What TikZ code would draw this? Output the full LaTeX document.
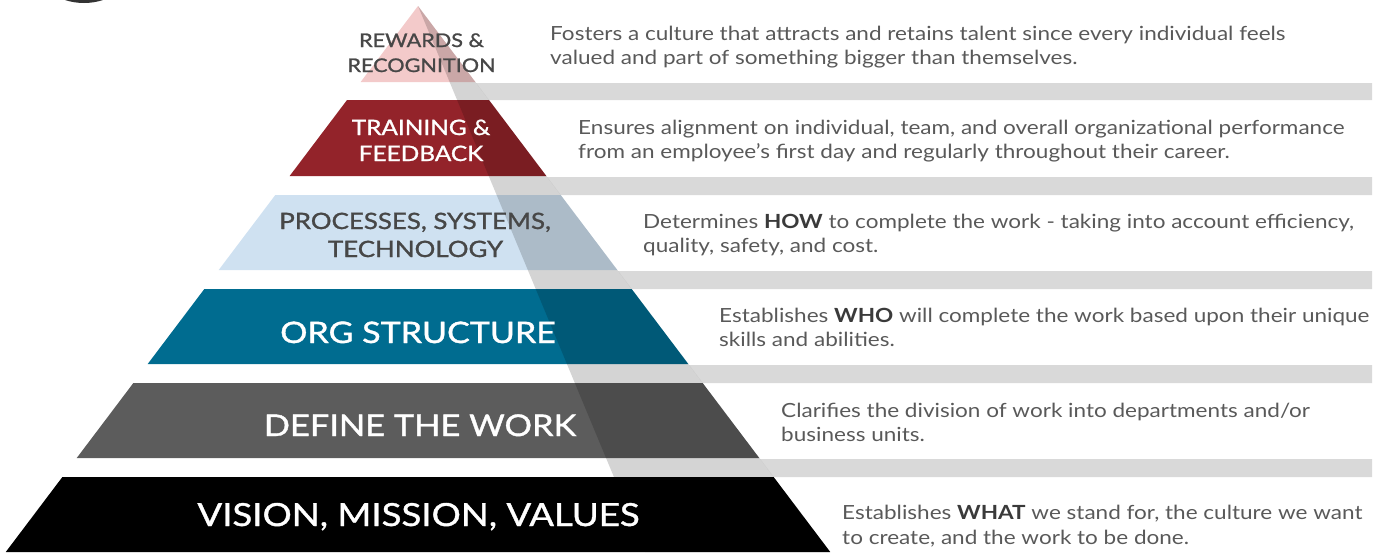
\documentclass[tikz,border=0pt]{standalone}
\usepackage{fontspec}
\setmainfont{Lato}
\newfontfamily\descfont[FakeStretch=1.155]{Lato}
\newfontfamily\labfont[FakeStretch=1.15,FakeBold=1.2]{Lato}
\definecolor{pinkL}{HTML}{F3CACA}
\definecolor{redL}{HTML}{93232A}
\definecolor{blueL}{HTML}{CFE1F1}
\definecolor{tealL}{HTML}{006C90}
\definecolor{grayL}{HTML}{5C5C5C}
\definecolor{barC}{HTML}{D9D9D9}
\definecolor{descC}{HTML}{595959}
\definecolor{boldC}{HTML}{3A3A3A}
\definecolor{labC}{HTML}{474747}
\newcommand{\lx}[1]{418-0.755*(#1-6)}
\newcommand{\rx}[1]{418+0.755*(#1-6)}
\begin{document}
\begin{tikzpicture}[x=1pt,y=-1pt,
  bar/.style={fill=barC,draw=none},
  desc/.style={anchor=base west, text=descC, font=\descfont\fontsize{19.5}{24}\selectfont, inner sep=0pt},
  lab/.style={anchor=base, inner sep=0pt}]
\useasboundingbox (0,0) rectangle (1380,554);
\begin{scope}
\clip (0,0) rectangle (1380,554);
\fill[black!80] (84,-58) circle (61);
\end{scope}
% grey bars between the tiers
\foreach \a/\b in {83/100,177/195,271/289,365/383,459/477}{
  \fill[bar] ({\rx{\a}},\a) -- (1372,\a) -- (1372,\b) -- ({\rx{\b}},\b) -- cycle;
}
% tiers
\fill[pinkL] (418,6) -- ({\rx{82}},82) -- ({\lx{82}},82) -- cycle;
\fill[redL] ({\lx{100}},100) -- ({\rx{100}},100) -- ({\rx{176}},176) -- ({\lx{176}},176) -- cycle;
\fill[blueL] ({\lx{195}},195) -- ({\rx{195}},195) -- ({\rx{270}},270) -- ({\lx{270}},270) -- cycle;
\fill[tealL] ({\lx{289}},289) -- ({\rx{289}},289) -- ({\rx{364}},364) -- ({\lx{364}},364) -- cycle;
\fill[grayL] ({\lx{383}},383) -- ({\rx{383}},383) -- ({\rx{458}},458) -- ({\lx{458}},458) -- cycle;
\fill[black] ({\lx{477}},477) -- ({\rx{477}},477) -- ({\rx{552}},552) -- ({\lx{552}},552) -- cycle;
% shadow
\fill[black,fill opacity=0.17] (418,6) -- ({418+0.416*546},552) -- ({\rx{552}},552) -- cycle;
% tier labels
\node[lab,text=labC,font=\labfont\fontsize{18.8}{20}\selectfont] (l1a) at (421.5,47) {REWARDS \&};
\node[lab,text=labC,font=\labfont\fontsize{18.8}{20}\selectfont] (l1b) at (421.5,72) {RECOGNITION};
\node[lab,text=white,font=\labfont\fontsize{21.2}{22}\selectfont] (l2a) at (421,135) {TRAINING \&};
\node[lab,text=white,font=\labfont\fontsize{21.2}{22}\selectfont] (l2b) at (421,161) {FEEDBACK};
\node[lab,text=labC,font=\labfont\fontsize{22.5}{24}\selectfont] (l3a) at (415,229) {PROCESSES, SYSTEMS,};
\node[lab,text=labC,font=\labfont\fontsize{22.5}{24}\selectfont] (l3b) at (415.5,257) {TECHNOLOGY};
\node[lab,text=white,font=\labfont\fontsize{29.6}{30}\selectfont] (l4) at (418,343) {ORG STRUCTURE};
\node[lab,text=white,font=\labfont\fontsize{29.9}{32}\selectfont] (l5) at (420,436) {DEFINE THE WORK};
\node[lab,text=white,font=\labfont\fontsize{31.8}{34}\selectfont] (l6) at (418.5,526) {VISION, MISSION, VALUES};
% descriptions
\node[desc] (d1a) at (550,40) {Fosters a culture that attracts and retains talent since every individual feels};
\node[desc] (d1b) at (550,64) {valued and part of something bigger than themselves.};
\node[desc] (d2a) at (578,134) {Ensures alignment on individual, team, and overall organizational performance};
\node[desc] (d2b) at (578,158) {from an employee’s first day and regularly throughout their career.};
\node[desc] (d3a) at (643,228) {Determines \textbf{\textcolor{boldC}{HOW}} to complete the work - taking into account efficiency,};
\node[desc] (d3b) at (643,252) {quality, safety, and cost.};
\node[desc] (d4a) at (719,322) {Establishes \textbf{\textcolor{boldC}{WHO}} will complete the work based upon their unique};
\node[desc] (d4b) at (719,346) {skills and abilities.};
\node[desc] (d5a) at (781,417) {Clarifies the division of work into departments and/or};
\node[desc] (d5b) at (781,441) {business units.};
\node[desc] (d6a) at (842,519) {Establishes \textbf{\textcolor{boldC}{WHAT}} we stand for, the culture we want};
\node[desc] (d6b) at (842,544) {to create, and the work to be done.};
\end{tikzpicture}
\end{document}
